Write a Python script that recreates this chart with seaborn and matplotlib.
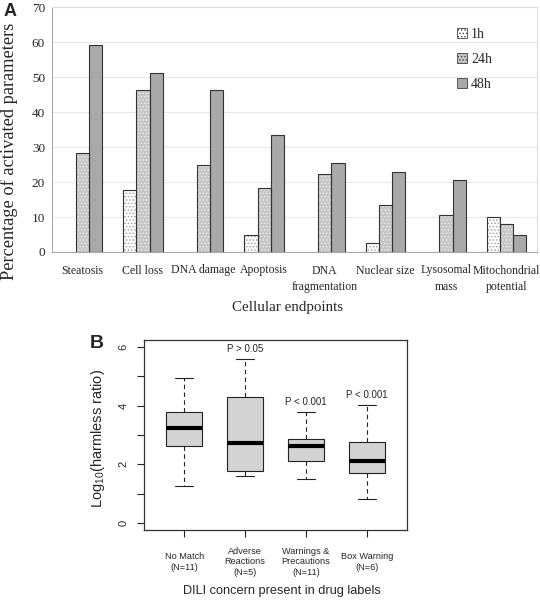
import numpy as np
import pandas as pd
import matplotlib
matplotlib.use('Agg')
import matplotlib.pyplot as plt
import seaborn as sns
from matplotlib.patches import Rectangle, Patch

# Datos panel A
categorias = ['Steatosis', 'Cell loss', 'DNA damage', 'Apoptosis', 'DNA\nfragmentation',
              'Nuclear size', 'Lysosomal\nmass', 'Mitochondrial\npotential']
tiempos = ['1h', '24h', '48h']
pct_1h = [0, 17.7, 0, 4.9, 0, 2.5, 0, 10.1]
pct_24h = [28.4, 46.3, 24.9, 18.2, 22.2, 13.4, 10.6, 7.9]
pct_48h = [59.1, 51.2, 46.3, 33.4, 25.5, 22.9, 20.6, 4.9]

grupos = ['No Match\n(N=11)', 'Adverse\nReactions\n(N=5)', 'Warnings &\nPrecautions\n(N=11)', 'Box Warning\n(N=6)']
no_match = [1.27, 2.61, 3.23, 3.78, 4.93]
adversas = [1.59, 1.77, 2.71, 4.29, 5.60]
advertencias = [1.49, 2.12, 2.64, 2.87, 3.79]
box_warning = [0.83, 1.71, 2.12, 2.76, 4.03]
p_valores = ['', 'P > 0.05', 'P < 0.001', 'P < 0.001']

sns.set_style('white')
plt.rcParams['hatch.linewidth'] = 0.6
plt.rcParams['mathtext.fontset'] = 'custom'
plt.rcParams['mathtext.rm'] = 'Liberation Sans'

serif = 'Liberation Serif'
sans = 'Liberation Sans'

fig = plt.figure(figsize=(5.4, 6), dpi=100)
ax_a = fig.add_axes([0.0963, 0.58, 0.8981, 0.4083])
ax_b = fig.add_axes([0.2667, 0.1167, 0.487, 0.3167])

# ---------- Panel A ----------
colores = ['#ffffff', '#c6c6c6', '#a9a9a9']
hatches = ['.....', '.....', '']
color_trama = ['#9a9a9a', '#ececec', '#a9a9a9']
df_a = pd.DataFrame({'endpoint': categorias * 3,
                     'tiempo': np.repeat(tiempos, len(categorias)),
                     'valor': pct_1h + pct_24h + pct_48h})
sns.barplot(data=df_a, x='endpoint', y='valor', hue='tiempo', palette=colores,
            width=0.65, saturation=1, linewidth=0.5,
            legend=False, ax=ax_a)
for cont, h, ct in zip(ax_a.containers, hatches, color_trama):
    for p in cont:
        p.set_hatch(h)
        p.set_edgecolor(ct)
        if p.get_height() > 0:
            ax_a.add_patch(Rectangle(p.get_xy(), p.get_width(), p.get_height(),
                                     fill=False, edgecolor='#333333', lw=0.8, zorder=3))

ax_a.set_ylim(0, 70)
ax_a.set_xlim(-0.5, 7.5)
ax_a.set_yticks(range(0, 71, 10))
ax_a.set_yticklabels([str(v) for v in range(0, 71, 10)], family=serif, fontsize=9.5)
ax_a.yaxis.grid(True, color='#e8e8e8', lw=0.8)
ax_a.set_axisbelow(True)
ax_a.tick_params(axis='both', length=0)
ax_a.tick_params(axis='y', pad=5)
ax_a.tick_params(axis='x', pad=9)
ax_a.set_xticks(range(len(categorias)))
ax_a.set_xticklabels(categorias, fontsize=8.5, family=serif, linespacing=1.45)
for s in ['top', 'right']:
    ax_a.spines[s].set_color('#dddddd')
for s in ['left', 'bottom']:
    ax_a.spines[s].set_color('#aaaaaa')

ax_a.set_ylabel('Percentage of activated parameters', family=serif, fontsize=13.2)
ax_a.yaxis.set_label_coords(-0.07, 0.41)
ax_a.set_xlabel('Cellular endpoints', family=serif, fontsize=10.8, va='top')
ax_a.xaxis.set_label_coords(0.485, -0.2)

handles = [Patch(facecolor=c, hatch=h, edgecolor='#444444', lw=0.6) for c, h in zip(colores, hatches)]
ax_a.legend(handles, tiempos, loc='upper left', bbox_to_anchor=(0.81, 0.965), frameon=False,
            handlelength=0.7, handleheight=0.7, handletextpad=0.3, labelspacing=0.85,
            prop={'family': serif, 'size': 10})

# ---------- Panel B ----------
df_b = pd.DataFrame({'grupo': np.repeat(grupos, 5),
                     'ratio': no_match + adversas + advertencias + box_warning})
sns.boxplot(data=df_b, x='grupo', y='ratio', ax=ax_b, width=0.6, whis=np.inf,
            color='#d3d3d3', saturation=1, linecolor='#222222', linewidth=0.8,
            medianprops=dict(color='black', linewidth=3),
            whiskerprops=dict(linestyle=(0, (4, 3))))

maximos = [max(v) for v in [no_match, adversas, advertencias, box_warning]]
for i, (txt, m) in enumerate(zip(p_valores, maximos)):
    ax_b.text(i, m + 0.32, txt, ha='center', va='center', fontsize=7, family=sans)

ax_b.set_xlim(-0.66, 3.66)
ax_b.set_ylim(-0.24, 6.24)
ax_b.set_yticks(range(0, 7))
ax_b.set_yticklabels(['0', '', '2', '', '4', '', '6'], rotation=90, va='center',
                     family=sans, fontsize=8)
ax_b.set_xticks(range(len(grupos)))
ax_b.set_xticklabels(grupos, va='center', family=sans, fontsize=6.6, linespacing=1.2)
ax_b.tick_params(axis='y', length=5, width=0.8, direction='out', left=True, pad=6, color='#222222')
ax_b.tick_params(axis='x', length=5, width=0.8, direction='out', bottom=True, pad=18, color='#222222')
for s in ax_b.spines.values():
    s.set_color('#333333')
    s.set_linewidth(0.9)

ax_b.set_ylabel('Log$_{\\mathrm{10}}$(harmless ratio)', family=sans, fontsize=10.5)
ax_b.yaxis.set_label_coords(-0.14, 0.48)
ax_b.set_xlabel('DILI concern present in drug labels', family=sans, fontsize=9.2, va='top')
ax_b.xaxis.set_label_coords(0.523, -0.29)

fig.text(0.0185, 0.98, 'A', fontsize=13, fontweight='bold', family=sans, ha='center', va='center')
fig.text(0.18, 0.427, 'B', fontsize=14, fontweight='bold', family=sans, ha='center', va='center')

plt.savefig('out.png', dpi=100)
